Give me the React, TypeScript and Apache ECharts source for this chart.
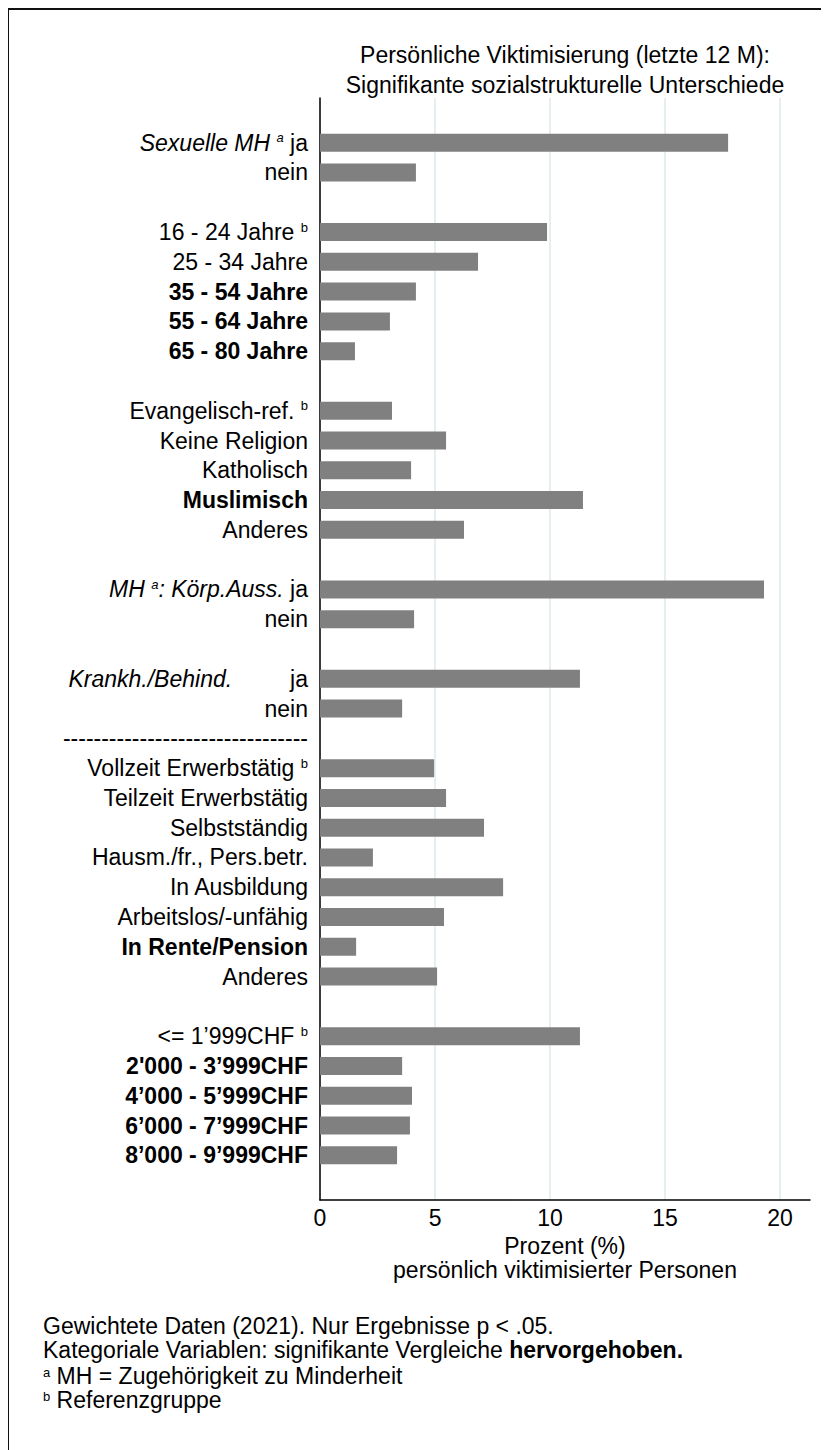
import React, { useEffect, useRef } from "react";
import * as echarts from "echarts";

// Categories from top to bottom ("" = empty spacer row)
const categories: string[] = [
  "",
  "Sexuelle MH ja",
  "nein",
  "",
  "16 - 24 Jahre",
  "25 - 34 Jahre",
  "35 - 54 Jahre",
  "55 - 64 Jahre",
  "65 - 80 Jahre",
  "",
  "Evangelisch-ref.",
  "Keine Religion",
  "Katholisch",
  "Muslimisch",
  "Anderes",
  "",
  "MH: Körp.Auss. ja",
  "nein",
  "",
  "Krankh./Behind. ja",
  "nein",
  "--------------------------------",
  "Vollzeit Erwerbstätig",
  "Teilzeit Erwerbstätig",
  "Selbstständig",
  "Hausm./fr., Pers.betr.",
  "In Ausbildung",
  "Arbeitslos/-unfähig",
  "In Rente/Pension",
  "Anderes",
  "",
  "<= 1’999CHF",
  "2'000 - 3’999CHF",
  "4’000 - 5’999CHF",
  "6’000 - 7’999CHF",
  "8’000 - 9’999CHF",
  "",
];

// Percent of personally victimised persons
const values: (number | null)[] = [
  null,
  17.74, 4.17,
  null,
  9.87, 6.87, 4.17, 3.04, 1.52,
  null,
  3.13, 5.48, 3.96, 11.43, 6.26,
  null,
  19.3, 4.09,
  null,
  11.3, 3.57,
  null,
  4.96, 5.48, 7.13, 2.3, 7.96, 5.39, 1.57, 5.09,
  null,
  11.3, 3.57, 4.0, 3.91, 3.35,
  null,
];

// Rows highlighted (significant) and reference groups
const significantRows: number[] = [6, 7, 8, 13, 28, 32, 33, 34, 35];
const referenceRows: number[] = [4, 10, 22, 31];

const xTicks: number[] = [0, 5, 10, 15, 20];

const titleLines: string[] = [
  "Persönliche Viktimisierung (letzte 12 M):",
  "Signifikante sozialstrukturelle Unterschiede",
];
const xAxisNameLines: string[] = ["Prozent (%)", "persönlich viktimisierter Personen"];

const FONT = "'Liberation Sans', Arial, Helvetica, sans-serif";
const FS = 23;

function formatLabel(value: string, idx: number): string {
  if (idx === 1) return "{it|Sexuelle MH }{supi|a}{n| ja}";
  if (idx === 16) return "{it|MH }{supi|a}{it|: Körp.Auss.}{n| ja}";
  if (idx === 19) return "{it|Krankh./Behind.}{gap|ja}";
  if (!value) return "";
  if (significantRows.includes(idx)) return `{b|${value}}`;
  if (referenceRows.includes(idx)) return `{n|${value} }{sup|b}`;
  return `{n|${value}}`;
}

export default function App() {
  const ref = useRef<HTMLDivElement>(null);

  useEffect(() => {
    if (!ref.current) return;
    const chart = echarts.init(ref.current, undefined, { renderer: "svg" });
    const supStyle = { fontSize: 13, fontFamily: FONT, color: "#000", padding: [0, 0, 10, 0] };
    const footRich = {
      n: { fontSize: FS, lineHeight: 21, fontFamily: FONT, fill: "#000" },
      b: { fontSize: FS, lineHeight: 21, fontFamily: FONT, fill: "#000", fontWeight: "bold" },
      s: { fontSize: 13, lineHeight: 13, fontFamily: FONT, fill: "#000", padding: [0, 0, 8, 0] },
    };
    chart.setOption({
      animation: false,
      backgroundColor: "#fff",
      textStyle: { fontFamily: FONT },
      title: {
        text: titleLines.join("\n"),
        left: 556,
        top: 30,
        padding: 0,
        textAlign: "center",
        textStyle: {
          fontFamily: FONT,
          fontSize: FS,
          fontWeight: "normal",
          color: "#000",
          lineHeight: 30,
        },
      },
      grid: { left: 311, right: 19, top: 88, bottom: 250 },
      xAxis: {
        type: "value",
        min: 0,
        max: 21.3,
        interval: 5,
        name: xAxisNameLines.join("\n"),
        nameLocation: "middle",
        nameGap: 27,
        nameTextStyle: {
          fontFamily: FONT,
          fontSize: FS,
          color: "#000",
          lineHeight: 24,
          verticalAlign: "top",
        },
        axisLine: { show: true, lineStyle: { color: "#000", width: 1.5 } },
        axisTick: { show: false },
        axisLabel: {
          fontFamily: FONT,
          fontSize: FS,
          color: "#000",
          margin: 6,
          showMaxLabel: false,
          formatter: (v: number) => (xTicks.includes(v) ? String(v) : ""),
        },
        splitLine: {
          show: true,
          showMaxLine: false,
          lineStyle: { color: "#e6eef1", width: 2 },
        },
      },
      yAxis: {
        type: "category",
        data: categories,
        inverse: true,
        axisLine: { show: true, lineStyle: { color: "#000", width: 1.5 } },
        axisTick: { show: false },
        splitLine: { show: false },
        axisLabel: {
          interval: 0,
          margin: 12,
          formatter: formatLabel,
          rich: {
            n: { fontSize: FS, fontFamily: FONT, color: "#000" },
            b: { fontSize: FS, fontFamily: FONT, color: "#000", fontWeight: "bold" },
            it: { fontSize: FS, fontFamily: FONT, color: "#000", fontStyle: "italic" },
            gap: { fontSize: FS, fontFamily: FONT, color: "#000", padding: [0, 0, 0, 58] },
            sup: supStyle,
            supi: { ...supStyle, fontStyle: "italic" },
          },
        },
      },
      series: [
        {
          type: "bar",
          data: values,
          barWidth: 18,
          itemStyle: { color: "#808080" },
          silent: true,
        },
      ],
      graphic: [
        {
          type: "text",
          x: 34,
          y: 1316,
          style: {
            text: "{n|Gewichtete Daten (2021). Nur Ergebnisse p < .05.}",
            verticalAlign: "middle",
            rich: footRich,
          },
        },
        {
          type: "text",
          x: 34,
          y: 1340,
          style: {
            text: "{n|Kategoriale Variablen: signifikante Vergleiche }{b|hervorgehoben.}",
            verticalAlign: "middle",
            rich: footRich,
          },
        },
        {
          type: "text",
          x: 34,
          y: 1366,
          style: {
            text: "{s|a}{n| MH = Zugehörigkeit zu Minderheit}",
            verticalAlign: "middle",
            rich: footRich,
          },
        },
        {
          type: "text",
          x: 34,
          y: 1390,
          style: {
            text: "{s|b}{n| Referenzgruppe}",
            verticalAlign: "middle",
            rich: footRich,
          },
        },
      ],
    });
    return () => chart.dispose();
  }, []);

  return (
    <div
      style={{
        width: 821,
        height: 1442,
        boxSizing: "border-box",
        borderTop: "2px solid #111",
        borderLeft: "1px solid #111",
        overflow: "hidden",
        background: "#fff",
      }}
    >
      <div ref={ref} style={{ width: 820, height: 1440 }} />
    </div>
  );
}
